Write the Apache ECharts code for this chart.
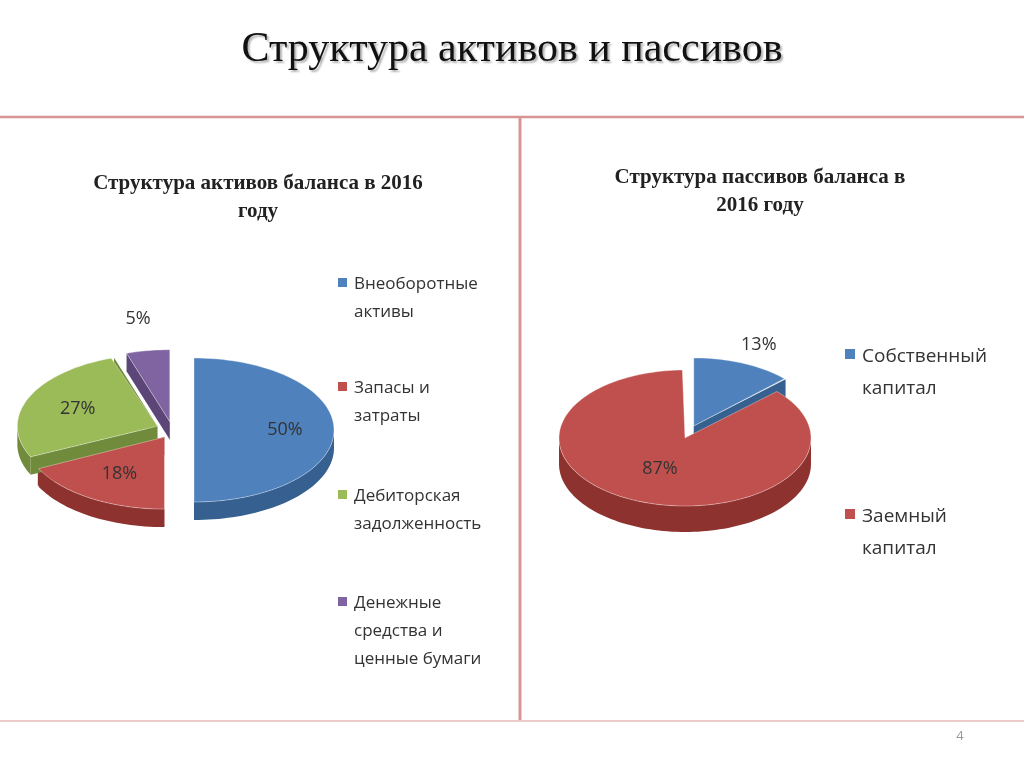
<!DOCTYPE html>
<html><head><meta charset="utf-8">
<script src="https://cdn.jsdelivr.net/npm/echarts@6/dist/echarts.min.js"></script>
<style>html,body{margin:0;background:#fff}#main{width:1024px;height:767px}</style>
</head><body><div id="main"></div>
<script>
var assetNames = ['Внеоборотные\nактивы', 'Запасы и\nзатраты', 'Дебиторская\nзадолженность', 'Денежные\nсредства и\nценные бумаги'];
var assetValues = [50, 18, 27, 5];
var liabNames = ['Собственный\nкапитал', 'Заемный\nкапитал'];
var liabValues = [13, 87];

var tops = ['#4F81BD', '#C0504D', '#9BBB59', '#8064A2'];
var sides = ['#35608F', '#8E3230', '#718B3C', '#5B4677'];

// pie geometry: cx, cy, rx, ry, depth, explode per slice, label radius per slice
var pies = [
  {vals: assetValues, cx: 172, cy: 430, rx: 140, ry: 72, d: 18, ex: [22, 14, 16, 14], lr: [0.65, 0.6, 0.62, 1.45]},
  {vals: liabValues, cx: 685, cy: 438, rx: 126, ry: 68, d: 26, ex: [22, 0], lr: [1.3, 0.5]}
];

function rows(p) {
  var tot = p.vals.reduce(function (a, b) { return a + b; }, 0), acc = 0, out = [];
  p.vals.forEach(function (v, i) {
    out.push([acc / tot * 360, (acc + v) / tot * 360, i, v]);
    acc += v;
  });
  return out;
}

function pt(p, th, dx, dy, r) {
  var a = th * Math.PI / 180;
  r = r == null ? 1 : r;
  return [p.cx + dx + p.rx * r * Math.sin(a), p.cy + dy - p.ry * r * Math.cos(a)];
}

function makeRender(p, part) {
  return function (params, api) {
    var a0 = api.value(0), a1 = api.value(1), i = api.value(2), v = api.value(3);
    var mid = (a0 + a1) / 2 * Math.PI / 180;
    var dx = p.ex[i] * Math.sin(mid), dy = -p.ex[i] * Math.cos(mid) * 0.6;
    var kids = [];
    if (part === 'side') {
      var s = Math.max(a0, 90), e = Math.min(a1, 270);
      if (e > s) {
        var top = [], bot = [];
        for (var t = s; t <= e + 0.01; t += 2) {
          var q = pt(p, Math.min(t, e), dx, dy);
          top.push(q); bot.unshift([q[0], q[1] + p.d]);
        }
        kids.push({type: 'polygon', shape: {points: top.concat(bot)}, style: {fill: sides[i]}});
      }
      // radial walls
      [a0, a1].forEach(function (ang) {
        var c = [p.cx + dx, p.cy + dy], q = pt(p, ang, dx, dy);
        kids.push({type: 'polygon', shape: {points: [c, q, [q[0], q[1] + p.d], [c[0], c[1] + p.d]]}, style: {fill: sides[i]}});
      });
    } else {
      var pts = [[p.cx + dx, p.cy + dy]];
      for (var t2 = a0; t2 <= a1 + 0.01; t2 += 2) pts.push(pt(p, Math.min(t2, a1), dx, dy));
      kids.push({type: 'polygon', shape: {points: pts}, style: {fill: tops[i], stroke: 'rgba(255,255,255,0.35)', lineWidth: 1}});
      var lp = pt(p, (a0 + a1) / 2, dx, dy, p.lr[i]);
      kids.push({type: 'text', style: {text: v + '%', x: lp[0], y: lp[1], align: 'center', verticalAlign: 'middle',
        fill: '#333', font: '18px "Open Sans"'}});
    }
    return {type: 'group', children: kids};
  };
}

var series = [];
pies.forEach(function (p, k) {
  series.push({type: 'custom', coordinateSystem: 'none', z: 2, data: rows(p), renderItem: makeRender(p, 'side')});
  series.push({type: 'custom', coordinateSystem: 'none', z: 3, data: rows(p), renderItem: makeRender(p, 'top')});
});

var graphics = [
  {type: 'line', shape: {x1: 0, y1: 117, x2: 1024, y2: 117}, style: {stroke: '#D99594', lineWidth: 2.5}},
  {type: 'line', shape: {x1: 520, y1: 117, x2: 520, y2: 720}, style: {stroke: '#D99594', lineWidth: 3}},
  {type: 'line', shape: {x1: 0, y1: 721, x2: 1024, y2: 721}, style: {stroke: '#D99594', lineWidth: 1}},
  {type: 'text', style: {text: 'Структура активов и пассивов', x: 512, y: 50, align: 'center', verticalAlign: 'middle',
    font: '42px "Liberation Serif"', fill: '#111', textShadowColor: 'rgba(0,0,0,0.3)', textShadowOffsetX: 2, textShadowOffsetY: 2, textShadowBlur: 2}},
  {type: 'text', style: {text: 'Структура активов баланса в 2016\nгоду', x: 258, y: 198, align: 'center', verticalAlign: 'middle',
    font: 'bold 21px "Liberation Serif"', lineHeight: 28, fill: '#222'}},
  {type: 'text', style: {text: 'Структура пассивов баланса в\n2016 году', x: 760, y: 192, align: 'center', verticalAlign: 'middle',
    font: 'bold 21px "Liberation Serif"', lineHeight: 28, fill: '#222'}},
  {type: 'text', style: {text: '4', x: 960, y: 736, align: 'center', verticalAlign: 'middle', font: '13px "Open Sans"', fill: '#999'}}
];
var legL = [283, 387, 495, 602];
assetNames.forEach(function (n, i) {
  graphics.push({type: 'rect', shape: {x: 338, y: legL[i] - 5, width: 9, height: 9}, style: {fill: tops[i]}});
  graphics.push({type: 'text', style: {text: n, x: 354, y: legL[i] - 13, font: '17px "Open Sans"', lineHeight: 28, fill: '#333'}});
});
var legR = [355, 515];
liabNames.forEach(function (n, i) {
  graphics.push({type: 'rect', shape: {x: 845, y: legR[i] - 6, width: 10, height: 10}, style: {fill: tops[i]}});
  graphics.push({type: 'text', style: {text: n, x: 862, y: legR[i] - 14, font: '19px "Open Sans"', lineHeight: 32, fill: '#333'}});
});

var myChart = echarts.init(document.getElementById('main'));
myChart.setOption({animation: false, graphic: graphics, series: series});
</script></body></html>
